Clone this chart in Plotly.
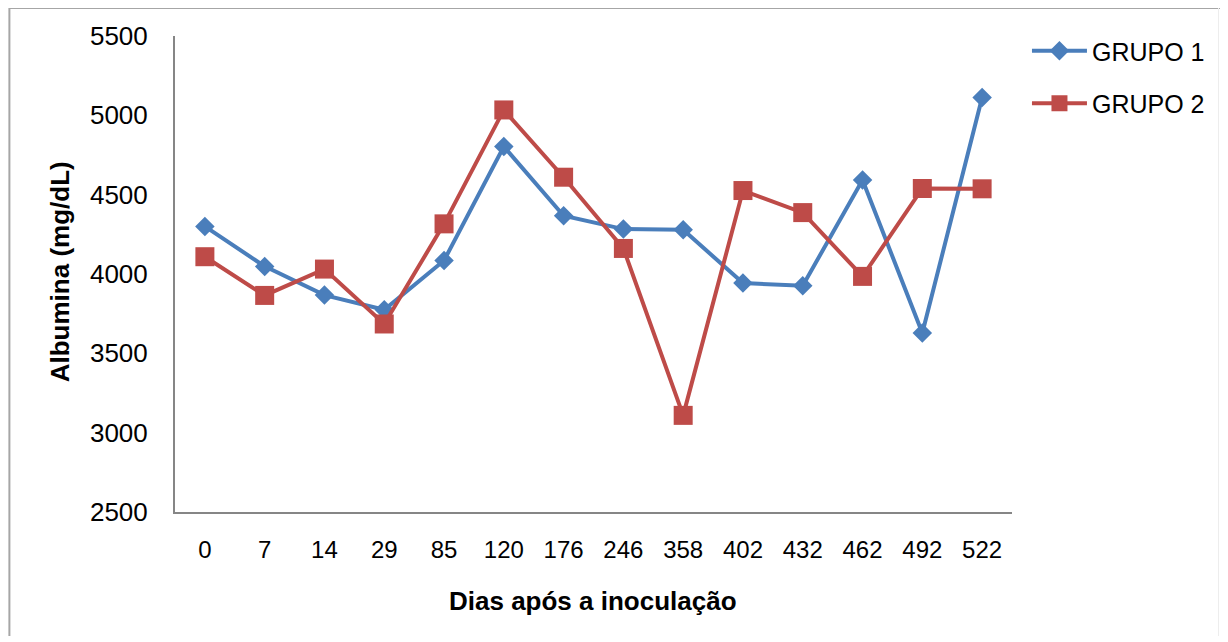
import plotly.graph_objects as go

dias = ["0", "7", "14", "29", "85", "120", "176", "246", "358", "402", "432", "462", "492", "522"]
grupo1 = [4300, 4048, 3867, 3775, 4085, 4803, 4367, 4283, 4279, 3943, 3926, 4593, 3628, 5112]
grupo2 = [4109, 3865, 4031, 3685, 4316, 5034, 4610, 4161, 3109, 4526, 4387, 3985, 4539, 4537]
y_ticks = [2500, 3000, 3500, 4000, 4500, 5000, 5500]

BLUE = "#4A7EBB"
RED = "#BE4B48"
AXIS = "#868686"

# page has an 8px body margin; work in page coordinates and subtract it
OFF = 8
W, H = 1214, 628
PL, PR, PT, PB = 175, 1014, 36, 512   # plot area in page px
L = PL - OFF
T = PT - OFF
R = W - (PR - OFF)
B = H - (PB - OFF)
pw = W - L - R
ph = H - T - B

fig = go.Figure()
fig.add_trace(go.Scatter(
    x=dias, y=grupo1, name="GRUPO 1", mode="lines+markers",
    line=dict(color=BLUE, width=4),
    marker=dict(symbol="diamond", size=15, color=BLUE),
    legendgroup="g1",
))
fig.add_trace(go.Scatter(
    x=dias, y=grupo2, name="GRUPO 2", mode="lines+markers",
    line=dict(color=RED, width=4),
    marker=dict(symbol="square", size=19, color=RED),
    legendgroup="g2",
))

def px_x(x):
    return (x - OFF - L) / pw

def px_y(y):
    return (H - B - (y - OFF)) / ph

fig.update_layout(
    template="none",
    width=W, height=H,
    margin=dict(l=L, r=R, t=T, b=B, pad=0),
    paper_bgcolor="white", plot_bgcolor="white",
    font=dict(family="Liberation Sans, Arial, sans-serif", size=25, color="black"),
    showlegend=True,
    legend=dict(
        x=px_x(1029), y=px_y(28), xanchor="left", yanchor="top",
        font=dict(size=25), itemwidth=55, tracegroupgap=17,
        bgcolor="rgba(0,0,0,0)",
    ),
    xaxis=dict(
        type="category", range=[-0.5, len(dias) - 0.5],
        showline=True, linecolor=AXIS, linewidth=2,
        showgrid=False, zeroline=False, ticks="", automargin=False,
        tickfont=dict(family="Liberation Sans Narrow, Arial Narrow, Liberation Sans, sans-serif", size=24),
        ticklabelstandoff=15,
    ),
    yaxis=dict(
        range=[2500, 5500], tickvals=y_ticks,
        showline=True, linecolor=AXIS, linewidth=2,
        showgrid=False, zeroline=False, ticks="", automargin=False,
        tickfont=dict(size=26), ticklabelstandoff=20,
    ),
    annotations=[
        dict(text="<b>Dias após a inoculação</b>", xref="paper", yref="paper",
             x=px_x(594), y=px_y(601), xanchor="center", yanchor="middle",
             showarrow=False, font=dict(size=26)),
        dict(text="<b>Albumina (mg/dL)</b>", xref="paper", yref="paper",
             x=px_x(60), y=px_y(272), xanchor="center", yanchor="middle",
             textangle=-90, showarrow=False, font=dict(size=26)),
    ],
    shapes=[
        dict(type="line", xref="paper", yref="paper",
             x0=px_x(9), x1=px_x(9), y0=px_y(642), y1=px_y(8),
             line=dict(color="#A6A6A6", width=2), layer="below"),
        dict(type="line", xref="paper", yref="paper",
             x0=px_x(9), x1=px_x(1228), y0=px_y(8), y1=px_y(8),
             line=dict(color="#A6A6A6", width=2), layer="below"),
        dict(type="line", xref="paper", yref="paper",
             x0=px_x(1221), x1=px_x(1221), y0=px_y(642), y1=px_y(8),
             line=dict(color="#EDEDED", width=1), layer="below"),
    ],
)

fig.write_html("out.html")
